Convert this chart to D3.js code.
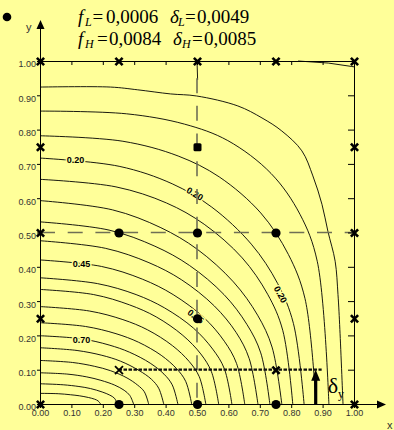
<!DOCTYPE html>
<html>
<head>
<meta charset="utf-8">
<script src="https://cdn.jsdelivr.net/npm/d3@7"></script>
<style>
  html, body { margin: 0; padding: 0; background: #FFFF99; }
  svg { display: block; }
</style>
</head>
<body>
<svg id="chart" width="394" height="430"></svg>
<script>
// ---- data ----
const tickValues = [0, 0.1, 0.2, 0.3, 0.4, 0.5, 0.6, 0.7, 0.8, 0.9, 1.0];
const tickLabels = ["0.00","0.10","0.20","0.30","0.40","0.50","0.60","0.70","0.80","0.90","1.00"];

const contourLevels = [0.05,0.10,0.15,0.20,0.25,0.30,0.35,0.40,0.45,0.50,
                       0.55,0.60,0.65,0.70,0.75,0.80,0.85,0.90,0.95];

// isolines, one polyline (x, y) per level
const contourLines = [
  [[0,0.924],[0.225,0.924],[0.311,0.916],[0.416,0.904],[0.499,0.898],[0.630,0.869],[0.707,0.834],[0.770,0.796],[0.834,0.738],[0.869,0.665],[0.898,0.582],[0.917,0.503],[0.940,0.416],[0.949,0.319],[0.955,0.217],[0.965,0]],
  [[0,0.854],[0.276,0.846],[0.460,0.816],[0.598,0.768],[0.736,0.672],[0.828,0.553],[0.883,0.416],[0.920,0]],
  [[0,0.782],[0.264,0.766],[0.440,0.723],[0.571,0.662],[0.703,0.557],[0.791,0.436],[0.844,0.307],[0.879,0]],
  [[0,0.717],[0.252,0.693],[0.421,0.642],[0.547,0.574],[0.673,0.466],[0.757,0.351],[0.807,0.235],[0.841,0]],
  [[0,0.655],[0.242,0.633],[0.403,0.586],[0.523,0.524],[0.644,0.426],[0.725,0.320],[0.773,0.215],[0.805,0]],
  [[0,0.593],[0.231,0.566],[0.385,0.514],[0.501,0.451],[0.616,0.356],[0.693,0.259],[0.739,0.166],[0.770,0]],
  [[0,0.531],[0.220,0.507],[0.366,0.460],[0.476,0.404],[0.586,0.319],[0.659,0.232],[0.703,0.149],[0.732,0]],
  [[0,0.476],[0.208,0.454],[0.347,0.412],[0.451,0.362],[0.555,0.286],[0.625,0.208],[0.666,0.133],[0.694,0]],
  [[0,0.420],[0.196,0.401],[0.326,0.364],[0.424,0.319],[0.522,0.252],[0.587,0.183],[0.626,0.118],[0.652,0]],
  [[0,0.368],[0.183,0.351],[0.306,0.319],[0.397,0.280],[0.489,0.221],[0.550,0.160],[0.587,0.103],[0.611,0]],
  [[0,0.334],[0.171,0.319],[0.285,0.289],[0.370,0.254],[0.455,0.200],[0.512,0.146],[0.546,0.094],[0.569,0]],
  [[0,0.284],[0.158,0.271],[0.264,0.246],[0.343,0.216],[0.422,0.170],[0.475,0.124],[0.507,0.080],[0.528,0]],
  [[0,0.237],[0.145,0.226],[0.242,0.205],[0.314,0.180],[0.386,0.142],[0.435,0.103],[0.464,0.066],[0.483,0]],
  [[0,0.199],[0.132,0.190],[0.220,0.172],[0.285,0.151],[0.351,0.119],[0.395,0.087],[0.421,0.056],[0.439,0]],
  [[0,0.164],[0.118,0.156],[0.197,0.142],[0.256,0.125],[0.315,0.098],[0.355,0.072],[0.378,0.046],[0.394,0]],
  [[0,0.127],[0.104,0.121],[0.173,0.110],[0.225,0.097],[0.277,0.076],[0.311,0.055],[0.332,0.036],[0.346,0]],
  [[0,0.091],[0.089,0.087],[0.149,0.079],[0.194,0.069],[0.238,0.055],[0.268,0.040],[0.286,0.025],[0.298,0]],
  [[0,0.059],[0.074,0.056],[0.124,0.051],[0.161,0.045],[0.198,0.035],[0.222,0.026],[0.237,0.017],[0.247,0]],
  [[0,0.031],[0.058,0.030],[0.097,0.027],[0.125,0.024],[0.154,0.019],[0.174,0.014],[0.185,0.009],[0.193,0]]
];

// short isoline pieces along the upper edge
const edgeFragments = [
  [[0.822,1.0],[0.918,0.994],[0.993,0.984],[1.0,0.983]],
  [[0.5,1.0],[0.502,0.945]]
];

// labelled isolines: index into contourLevels, anchor point and angle
const contourLabels = [
  {k: 3,  x: 0.113, y: 0.712, a: 0},
  {k: 3,  x: 0.493, y: 0.613, a: 31},
  {k: 3,  x: 0.766, y: 0.319, a: 62},
  {k: 8,  x: 0.132, y: 0.409, a: 0},
  {k: 8,  x: 0.496, y: 0.255, a: 37},
  {k: 13, x: 0.132, y: 0.188, a: 0}
];

const crossMarkers = [[0,1],[0.25,1],[0.5,1],[0.75,1],[1,1],
                      [0,0.75],[0,0.5],[0,0.25],[0,0],
                      [1,0.75],[1,0.5],[1,0.25],[1,0],[0.75,0.1]];
const thinCrossMarkers = [[0.25,0.1]];
const dotMarkers = [[0.25,0.5],[0.5,0.5],[0.75,0.5],[0.5,0.25],[0.25,0],[0.5,0],[0.75,0]];
const squareMarkers = [[0.5,0.75]];

const dashedLines = [ [[0,0.5],[1,0.5]], [[0.5,0.95],[0.5,0]] ];
const dottedLine = [[0.25,0.1],[0.897,0.1]];
const deltaArrow = {x: 0.878, from: 0, to: 0.1};

const formulaRows = [
  {sub: "L", fVal: "0,0006", dVal: "0,0049"},
  {sub: "H", fVal: "0,0084", dVal: "0,0085"}
];

// ---- drawing ----
const W = 394, H = 430;
const BG = "#FFFF99";
const svg = d3.select("#chart");
svg.append("rect").attr("width", W).attr("height", H).attr("fill", BG);

const x = d3.scaleLinear().domain([0, 1]).range([40, 354]);
const y = d3.scaleLinear().domain([0, 1]).range([404, 61]);

const sans = "'Liberation Sans', Arial, sans-serif";
const serif = "'Liberation Serif', 'Times New Roman', serif";

const line = d3.line().x(d => x(d[0])).y(d => y(d[1]));

// isolines
const smooth = d3.line().x(d => x(d[0])).y(d => y(d[1])).curve(d3.curveCatmullRom.alpha(0.5));
svg.append("g").selectAll("path").data(contourLines).join("path")
  .attr("d", smooth)
  .attr("fill", "none")
  .attr("stroke", "#000")
  .attr("stroke-width", 0.9);
svg.append("g").selectAll("path").data(edgeFragments).join("path")
  .attr("d", line)
  .attr("fill", "none")
  .attr("stroke", "#000")
  .attr("stroke-width", 0.9);

// isoline labels (the halo opens a gap in the line)
svg.append("g").selectAll("text").data(contourLabels).join("text")
  .attr("transform", d => `translate(${x(d.x)},${y(d.y)}) rotate(${d.a})`)
  .attr("text-anchor", "middle")
  .attr("dy", "0.35em")
  .attr("font-family", sans)
  .attr("font-size", 9)
  .attr("font-weight", "bold")
  .attr("fill", "#000")
  .attr("stroke", BG)
  .attr("stroke-width", 3)
  .attr("paint-order", "stroke")
  .text(d => d3.format(".2f")(contourLevels[d.k]));

// dashed reference lines
svg.append("g").selectAll("path").data(dashedLines).join("path")
  .attr("d", line)
  .attr("fill", "none")
  .attr("stroke", "#6f6f55")
  .attr("stroke-width", 1.6)
  .attr("stroke-dasharray", "15,12.7");

// axes
const fmt = (d, i) => tickLabels[i];
svg.append("g").attr("transform", `translate(0,${y(0)})`)
  .call(d3.axisBottom(x).tickValues(tickValues).tickFormat(fmt)
        .tickSize(4).tickSizeOuter(0).tickPadding(2));
const gy = svg.append("g").attr("transform", `translate(${x(0)},0)`)
  .call(d3.axisLeft(y).tickValues(tickValues).tickFormat(fmt)
        .tickSize(3).tickSizeOuter(0).tickPadding(1));
gy.selectAll("text").attr("dy", "0.66em");
svg.append("g").attr("transform", `translate(0,${y(1)})`)
  .call(d3.axisTop(x).tickValues(tickValues).tickFormat("")
        .tickSize(-4).tickSizeOuter(0));
svg.append("g").attr("transform", `translate(${x(1)},0)`)
  .call(d3.axisRight(y).tickValues(tickValues).tickFormat("")
        .tickSize(-6).tickSizeOuter(0));
svg.selectAll(".tick text")
  .attr("font-family", sans).attr("font-size", 9).attr("fill", "#333");
svg.selectAll(".domain, .tick line").attr("stroke", "#000");

// axis arrows
const ax0 = x(0) + 0.5, ay0 = y(0) + 0.5;
svg.append("line").attr("x1", ax0).attr("x2", ax0).attr("y1", y(1)).attr("y2", 26)
  .attr("stroke", "#000").attr("stroke-width", 1);
svg.append("path").attr("d", `M${ax0},20 L${ax0 - 4},29 L${ax0 + 4},29 Z`).attr("fill", "#000");
svg.append("line").attr("x1", x(1)).attr("x2", 380).attr("y1", ay0).attr("y2", ay0)
  .attr("stroke", "#000").attr("stroke-width", 1);
svg.append("path").attr("d", `M386,${ay0} L377,${ay0 - 4} L377,${ay0 + 4} Z`).attr("fill", "#000");
svg.append("text").attr("x", 26).attr("y", 31).attr("font-family", sans)
  .attr("font-size", 11).attr("fill", "#333").text("y");
svg.append("text").attr("x", 387).attr("y", 429).attr("font-family", sans)
  .attr("font-size", 11).attr("fill", "#333").text("x");

// dotted offset line and delta arrow
svg.append("path").datum(dottedLine).attr("d", line)
  .attr("fill", "none").attr("stroke", "#111").attr("stroke-width", 2.3)
  .attr("stroke-dasharray", "3.5,1.5");
const axp = x(deltaArrow.x);
svg.append("line").attr("x1", axp).attr("x2", axp)
  .attr("y1", y(deltaArrow.from)).attr("y2", y(deltaArrow.to) + 9)
  .attr("stroke", "#000").attr("stroke-width", 3.2);
svg.append("path")
  .attr("d", `M${axp},${y(deltaArrow.to)} L${axp - 4.5},${y(deltaArrow.to) + 11} L${axp + 4.5},${y(deltaArrow.to) + 11} Z`)
  .attr("fill", "#000");
const dl = svg.append("text").attr("x", axp + 12).attr("y", 393)
  .attr("font-family", serif).attr("fill", "#000");
dl.append("tspan").attr("font-size", 22).text("δ");
dl.append("tspan").attr("font-size", 12).attr("dy", 5).text("y");

// markers
const mk = svg.append("g");
mk.selectAll("circle").data(dotMarkers).join("circle")
  .attr("cx", d => x(d[0]) + 0.5).attr("cy", d => y(d[1]) + 0.5).attr("r", 4.6).attr("fill", "#000");
mk.selectAll("rect").data(squareMarkers).join("rect")
  .attr("x", d => x(d[0]) + 0.5 - 4).attr("y", d => y(d[1]) + 0.5 - 4)
  .attr("width", 8).attr("height", 8).attr("rx", 1.5).attr("fill", "#000");
mk.selectAll("path.bold").data(crossMarkers).join("path").attr("class", "bold")
  .attr("transform", d => `translate(${x(d[0]) + 0.5},${y(d[1]) + 0.5})`)
  .attr("d", "M-3.6,-3.6L3.6,3.6M-3.6,3.6L3.6,-3.6")
  .attr("stroke", "#000").attr("stroke-width", 2.6);
mk.selectAll("path.thin").data(thinCrossMarkers).join("path").attr("class", "thin")
  .attr("transform", d => `translate(${x(d[0]) + 0.5},${y(d[1]) + 0.5})`)
  .attr("d", "M-4,-4L4,4M-4,4L4,-4")
  .attr("stroke", "#000").attr("stroke-width", 1.8);

// heading: bullet and parameter values
svg.append("circle").attr("cx", 7).attr("cy", 17).attr("r", 4.3).attr("fill", "#000");
const rowY = [22.7, 45];
const fx = [[78, 85, 92.5, 106], [78, 85, 97, 109]];
const dx = [[170, 178, 185, 197], [173, 182, 192, 204]];
formulaRows.forEach((r, i) => {
  const g = svg.append("g").attr("font-family", serif).attr("fill", "#000");
  const put = (xx, yy, size, italic, t) => g.append("text").attr("x", xx).attr("y", yy)
    .attr("font-size", size).attr("font-style", italic ? "italic" : "normal").text(t);
  put(fx[i][0], rowY[i], 19, true, "f");
  put(fx[i][1], rowY[i] + 2.8, 12, true, r.sub);
  put(fx[i][2], rowY[i], 19, false, "=");
  put(fx[i][3], rowY[i], 19, false, r.fVal);
  put(dx[i][0], rowY[i], 19, true, "δ");
  put(dx[i][1], rowY[i] + 2.8, 12, true, r.sub);
  put(dx[i][2], rowY[i], 19, false, "=");
  put(dx[i][3], rowY[i], 19, false, r.dVal);
});
</script>
</body>
</html>
